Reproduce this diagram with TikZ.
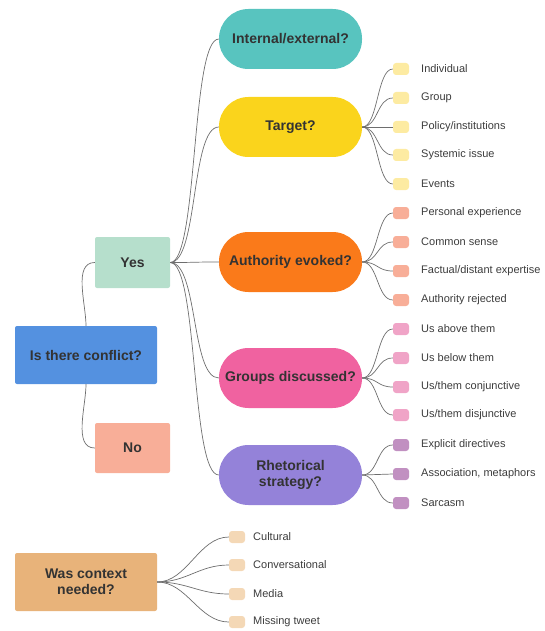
\documentclass[tikz,border=0pt]{standalone}
\usepackage{fontspec}
\setmainfont{Liberation Sans}
\definecolor{txt}{HTML}{333333}
\definecolor{ltxt}{HTML}{3C3C3C}
\definecolor{cblue}{HTML}{5491E0}
\definecolor{cgreen}{HTML}{B6DFCC}
\definecolor{csalmon}{HTML}{F8AE98}
\definecolor{cteal}{HTML}{58C4BF}
\definecolor{cyellow}{HTML}{FAD41C}
\definecolor{corange}{HTML}{FA7A1A}
\definecolor{cpink}{HTML}{F062A0}
\definecolor{cpurple}{HTML}{9482D9}
\definecolor{ctan}{HTML}{E8B37A}
\definecolor{lyellow}{HTML}{FDEBA2}
\definecolor{lsalmon}{HTML}{F8AE98}
\definecolor{lpink}{HTML}{F0A4C7}
\definecolor{lpurple}{HTML}{C190C1}
\definecolor{ltan}{HTML}{F4D8B6}
\definecolor{conn}{HTML}{6E6E6E}
\begin{document}
\begin{tikzpicture}[x=1pt,y=-1pt,
  boxnode/.style={rectangle,rounded corners=2pt,inner sep=0pt,text=txt,
    font=\fontsize{14}{16}\selectfont\bfseries,align=center},
  pill/.style={rectangle,rounded corners=29.5pt,inner sep=0pt,minimum width=143pt,
    minimum height=60pt,text=txt,font=\fontsize{14}{16}\selectfont\bfseries,align=center},
  leaf/.style={rectangle,rounded corners=3pt,inner sep=0pt,minimum width=16pt,minimum height=12pt},
  lbl/.style={anchor=west,inner sep=0pt,text=ltxt,font=\fontsize{11}{13}\selectfont},
  cn/.style={draw=conn,line width=0.7pt}]
\useasboundingbox (0,0) rectangle (545,631);

% main boxes
\node[boxnode,fill=cblue,minimum width=142pt,minimum height=58pt] (conf) at (86,355) {Is there conflict?};
\node[boxnode,fill=cgreen,minimum width=75pt,minimum height=51pt] (yes) at (132.5,262.5) {Yes};
\node[boxnode,fill=csalmon,minimum width=75pt,minimum height=50pt] (no) at (132.5,448) {No};
\node[boxnode,fill=ctan,minimum width=142pt,minimum height=58pt] (ctx) at (86,582) {Was context\\needed?};

% pills
\node[pill,fill=cteal] (ie) at (290.5,39) {Internal/external?};
\node[pill,fill=cyellow] (tg) at (290.5,127) {Target?};
\node[pill,fill=corange] (au) at (290.5,262) {Authority evoked?};
\node[pill,fill=cpink] (gr) at (290.5,378) {Groups discussed?};
\node[pill,fill=cpurple] (rh) at (290.5,475) {Rhetorical\\strategy?};

% conflict to yes/no
\draw[cn] (conf.north) to[out=90,in=180,distance=22pt] (yes.west);
\draw[cn] (conf.south) to[out=-90,in=180,distance=22pt] (no.west);

% yes to pills
\foreach \p in {ie,tg,au,gr,rh}
  \draw[cn] (yes.east) to[out=0,in=180,distance=28pt] (\p.west);

% target leaves
\foreach \n/\y/\t in {t1/69/{Individual},t2/98/{Group},t3/127/{Policy/institutions},t4/155/{Systemic issue},t5/184/{Events}}{
  \node[leaf,fill=lyellow] (\n) at (401,\y) {};
  \node[lbl] (\n l) at (421,\y) {\t};
  \draw[cn] (tg.east) to[out=0,in=180,distance=16pt] (\n.west);
}
% authority leaves
\foreach \n/\y/\t in {a1/213/{Personal experience},a2/242/{Common sense},a3/271/{Factual/distant expertise},a4/300/{Authority rejected}}{
  \node[leaf,fill=lsalmon] (\n) at (401,\y) {};
  \node[lbl] (\n l) at (421,\y) {\t};
  \draw[cn] (au.east) to[out=0,in=180,distance=16pt] (\n.west);
}
% groups leaves
\foreach \n/\y/\t in {g1/329/{Us above them},g2/358/{Us below them},g3/387/{Us/them conjunctive},g4/415/{Us/them disjunctive}}{
  \node[leaf,fill=lpink] (\n) at (401,\y) {};
  \node[lbl] (\n l) at (421,\y) {\t};
  \draw[cn] (gr.east) to[out=0,in=180,distance=16pt] (\n.west);
}
% rhetorical leaves
\foreach \n/\y/\t in {r1/445/{Explicit directives},r2/474/{Association, metaphors},r3/503/{Sarcasm}}{
  \node[leaf,fill=lpurple] (\n) at (401,\y) {};
  \node[lbl] (\n l) at (421,\y) {\t};
  \draw[cn] (rh.east) to[out=0,in=180,distance=16pt] (\n.west);
}
% context leaves
\foreach \n/\y/\t in {c1/537/{Cultural},c2/565/{Conversational},c3/594/{Media},c4/622/{Missing tweet}}{
  \node[leaf,fill=ltan] (\n) at (237,\y) {};
  \node[lbl] (\n l) at (253,\y) {\t};
  \draw[cn] (ctx.east) to[out=0,in=180,distance=30pt] (\n.west);
}
\end{tikzpicture}
\end{document}
